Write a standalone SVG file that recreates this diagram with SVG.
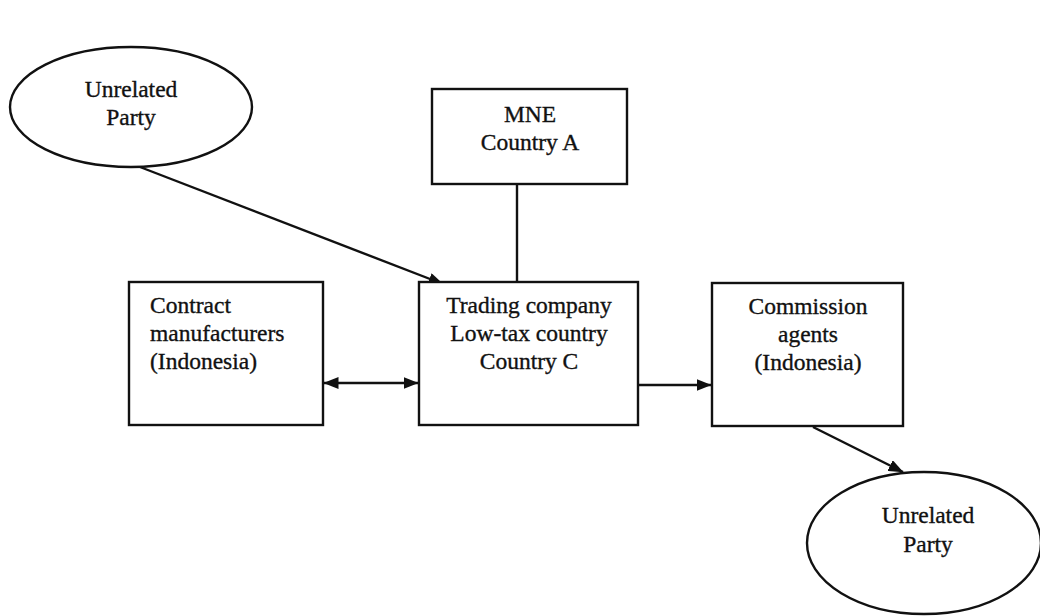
<svg xmlns="http://www.w3.org/2000/svg" width="1040" height="616" viewBox="0 0 1040 616">
  <style>
    .box { fill: #ffffff; stroke: #111111; stroke-width: 2.4; }
    .ell { fill: #ffffff; stroke: #111111; stroke-width: 2.4; }
    .lbl { font-family: "Liberation Serif", "Times New Roman", serif; font-size: 23.5px; fill: #111111; stroke: #111111; stroke-width: 0.35; }
    .mid { text-anchor: middle; }
    .con { fill: none; stroke: #111111; stroke-width: 2.4; }
  </style>
  <defs>
    <marker id="arrowEnd" viewBox="0 0 15 12" refX="14.5" refY="6" markerWidth="15" markerHeight="12" markerUnits="userSpaceOnUse" orient="auto">
      <path d="M0,0 L15,6 L0,12 Z" fill="#111111"/>
    </marker>
    <marker id="arrowStart" viewBox="0 0 15 12" refX="0.5" refY="6" markerWidth="15" markerHeight="12" markerUnits="userSpaceOnUse" orient="auto">
      <path d="M15,0 L0,6 L15,12 Z" fill="#111111"/>
    </marker>
  </defs>
  <rect x="0" y="0" width="1040" height="616" fill="#ffffff"/>

  <g id="connectors">
    <line class="con" x1="140" y1="167" x2="443" y2="284" marker-end="url(#arrowEnd)"/>
    <line class="con" x1="517" y1="184" x2="517" y2="282"/>
    <line class="con" x1="324" y1="383" x2="418" y2="383" marker-start="url(#arrowStart)" marker-end="url(#arrowEnd)"/>
    <line class="con" x1="639" y1="385" x2="711" y2="385" marker-end="url(#arrowEnd)"/>
    <line class="con" x1="813" y1="427" x2="903" y2="472" marker-end="url(#arrowEnd)"/>
  </g>

  <g id="unrelated-party-top">
    <ellipse class="ell" cx="131" cy="107" rx="121" ry="60"/>
    <text class="lbl mid" x="131" y="97">Unrelated</text>
    <text class="lbl mid" x="131" y="125">Party</text>
  </g>

  <g id="mne">
    <rect class="box" x="432" y="89" width="195" height="95"/>
    <text class="lbl mid" x="530" y="122">MNE</text>
    <text class="lbl mid" x="530" y="150">Country A</text>
  </g>

  <g id="contract-manufacturers">
    <rect class="box" x="129" y="282" width="194" height="143"/>
    <text class="lbl" x="150" y="313">Contract</text>
    <text class="lbl" x="150" y="341">manufacturers</text>
    <text class="lbl" x="150" y="369">(Indonesia)</text>
  </g>

  <g id="trading-company">
    <rect class="box" x="419" y="282" width="219" height="143"/>
    <text class="lbl mid" x="529" y="313">Trading company</text>
    <text class="lbl mid" x="529" y="341">Low-tax country</text>
    <text class="lbl mid" x="529" y="369">Country C</text>
  </g>

  <g id="commission-agents">
    <rect class="box" x="712" y="283" width="191" height="143"/>
    <text class="lbl mid" x="808" y="314">Commission</text>
    <text class="lbl mid" x="808" y="342">agents</text>
    <text class="lbl mid" x="808" y="370">(Indonesia)</text>
  </g>

  <g id="unrelated-party-bottom">
    <ellipse class="ell" cx="924" cy="543" rx="117" ry="71"/>
    <text class="lbl mid" x="928" y="523">Unrelated</text>
    <text class="lbl mid" x="928" y="552">Party</text>
  </g>
</svg>
